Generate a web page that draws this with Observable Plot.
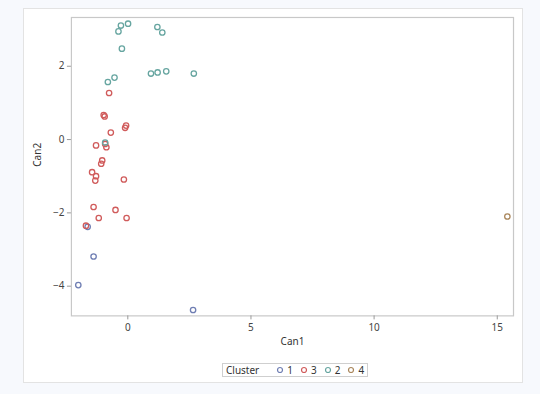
<!DOCTYPE html>
<html>
<head>
<meta charset="utf-8">
<script src="https://cdn.jsdelivr.net/npm/d3@7"></script>
<script src="https://cdn.jsdelivr.net/npm/@observablehq/plot@0.6"></script>
<style>
  html, body { margin: 0; padding: 0; background: #f7f9fd; width: 540px; height: 394px; overflow: hidden; }
  #card { position: absolute; left: 23px; top: 8px; width: 500px; height: 375px; box-sizing: border-box;
          background: #fff; border: 1px solid #e3e3e3; }
  #chart { position: absolute; left: -1px; top: -1px; }
  #legend { position: absolute; left: 198px; top: 354px; height: 12px; border: 1px solid #cfcfcf;
            font: 10px "Noto Sans", sans-serif; color: #333; display: flex; align-items: center;
            padding: 0 3px; white-space: nowrap; }
  #legend .item { display: inline-flex; align-items: center; margin-left: 7px; }
  #legend svg { margin-right: 3px; }
</style>
</head>
<body>
<div id="card"><div id="chart"></div><div id="legend"></div></div>
<script>
// Cluster order as shown in the legend
const clusters = ["1", "3", "2", "4"];
const colors = ["#6f7eb3", "#d05b5b", "#66a5a0", "#a9865b"];

// Cluster 1
const can1_c1 = [-1.63, -1.39, -2.01, 2.65];
const can2_c1 = [-2.38, -3.19, -3.97, -4.65];
// Cluster 3
const can1_c3 = [-0.76, -0.98, -0.94, -0.07, -0.11, -0.69, -1.29, -0.87, -0.92, -1.04, -1.08, -1.45, -1.29, -1.32, -0.16, -1.39, -0.50, -1.18, -0.05, -1.70];
const can2_c3 = [1.27, 0.67, 0.63, 0.38, 0.32, 0.19, -0.16, -0.21, -0.12, -0.57, -0.66, -0.89, -1.00, -1.12, -1.09, -1.84, -1.92, -2.14, -2.14, -2.35];
// Cluster 2
const can1_c2 = [-0.38, -0.28, 0.01, -0.24, 1.20, 1.40, -0.81, -0.54, 0.94, 1.21, 1.56, 2.68, -0.92];
const can2_c2 = [2.95, 3.11, 3.16, 2.48, 3.07, 2.92, 1.57, 1.69, 1.80, 1.83, 1.86, 1.80, -0.08];
// Cluster 4
const can1_c4 = [15.41];
const can2_c4 = [-2.10];

const xTicks = [0, 5, 10, 15];
const yTicks = [-4, -2, 0, 2];

const groups = [
  ["1", can1_c1, can2_c1],
  ["3", can1_c3, can2_c3],
  ["2", can1_c2, can2_c2],
  ["4", can1_c4, can2_c4]
];
const data = groups.flatMap(([c, xs, ys]) => xs.map((x, i) => ({cluster: c, can1: x, can2: ys[i]})));

const font = '"Noto Sans", sans-serif';
const chart = Plot.plot({
  width: 500,
  height: 346,
  marginLeft: 48,
  marginRight: 9,
  marginTop: 9,
  marginBottom: 38,
  style: { fontFamily: font, fontSize: "10px", color: "#333", background: "transparent" },
  x: { domain: [-2.29, 15.66], ticks: xTicks, label: null },
  y: { domain: [-4.81, 3.33], ticks: yTicks, label: null },
  color: { domain: clusters, range: colors },
  marks: [
    Plot.frame({ stroke: "#c8c8c8", strokeWidth: 1.2 }),
    Plot.axisX({ ticks: xTicks, tickSize: 4, tickPadding: 4, stroke: "#999", label: null, fill: "#444" }),
    Plot.axisY({ ticks: yTicks, tickSize: 4, tickPadding: 3, stroke: "#999", label: null, fill: "#444" }),
    Plot.dot(data, { x: "can1", y: "can2", stroke: "cluster", r: 2.7, strokeWidth: 1.3, fill: "none" }),
    Plot.text(["Can1"], { frameAnchor: "bottom", dy: 29, fill: "#333", fontSize: 10 }),
    Plot.text(["Can2"], { frameAnchor: "left", dx: -34, rotate: -90, fill: "#333", fontSize: 10 })
  ]
});
document.getElementById("chart").appendChild(chart);

// Legend
const legend = document.getElementById("legend");
const title = document.createElement("span");
title.textContent = "Cluster";
title.style.marginRight = "10px";
legend.appendChild(title);
clusters.forEach((c, i) => {
  const item = document.createElement("span");
  item.className = "item";
  item.innerHTML = `<svg width="8" height="8"><circle cx="4" cy="4" r="2.5" fill="none" stroke="${colors[i]}" stroke-width="1.2"/></svg><span>${c}</span>`;
  legend.appendChild(item);
});
</script>
</body>
</html>
